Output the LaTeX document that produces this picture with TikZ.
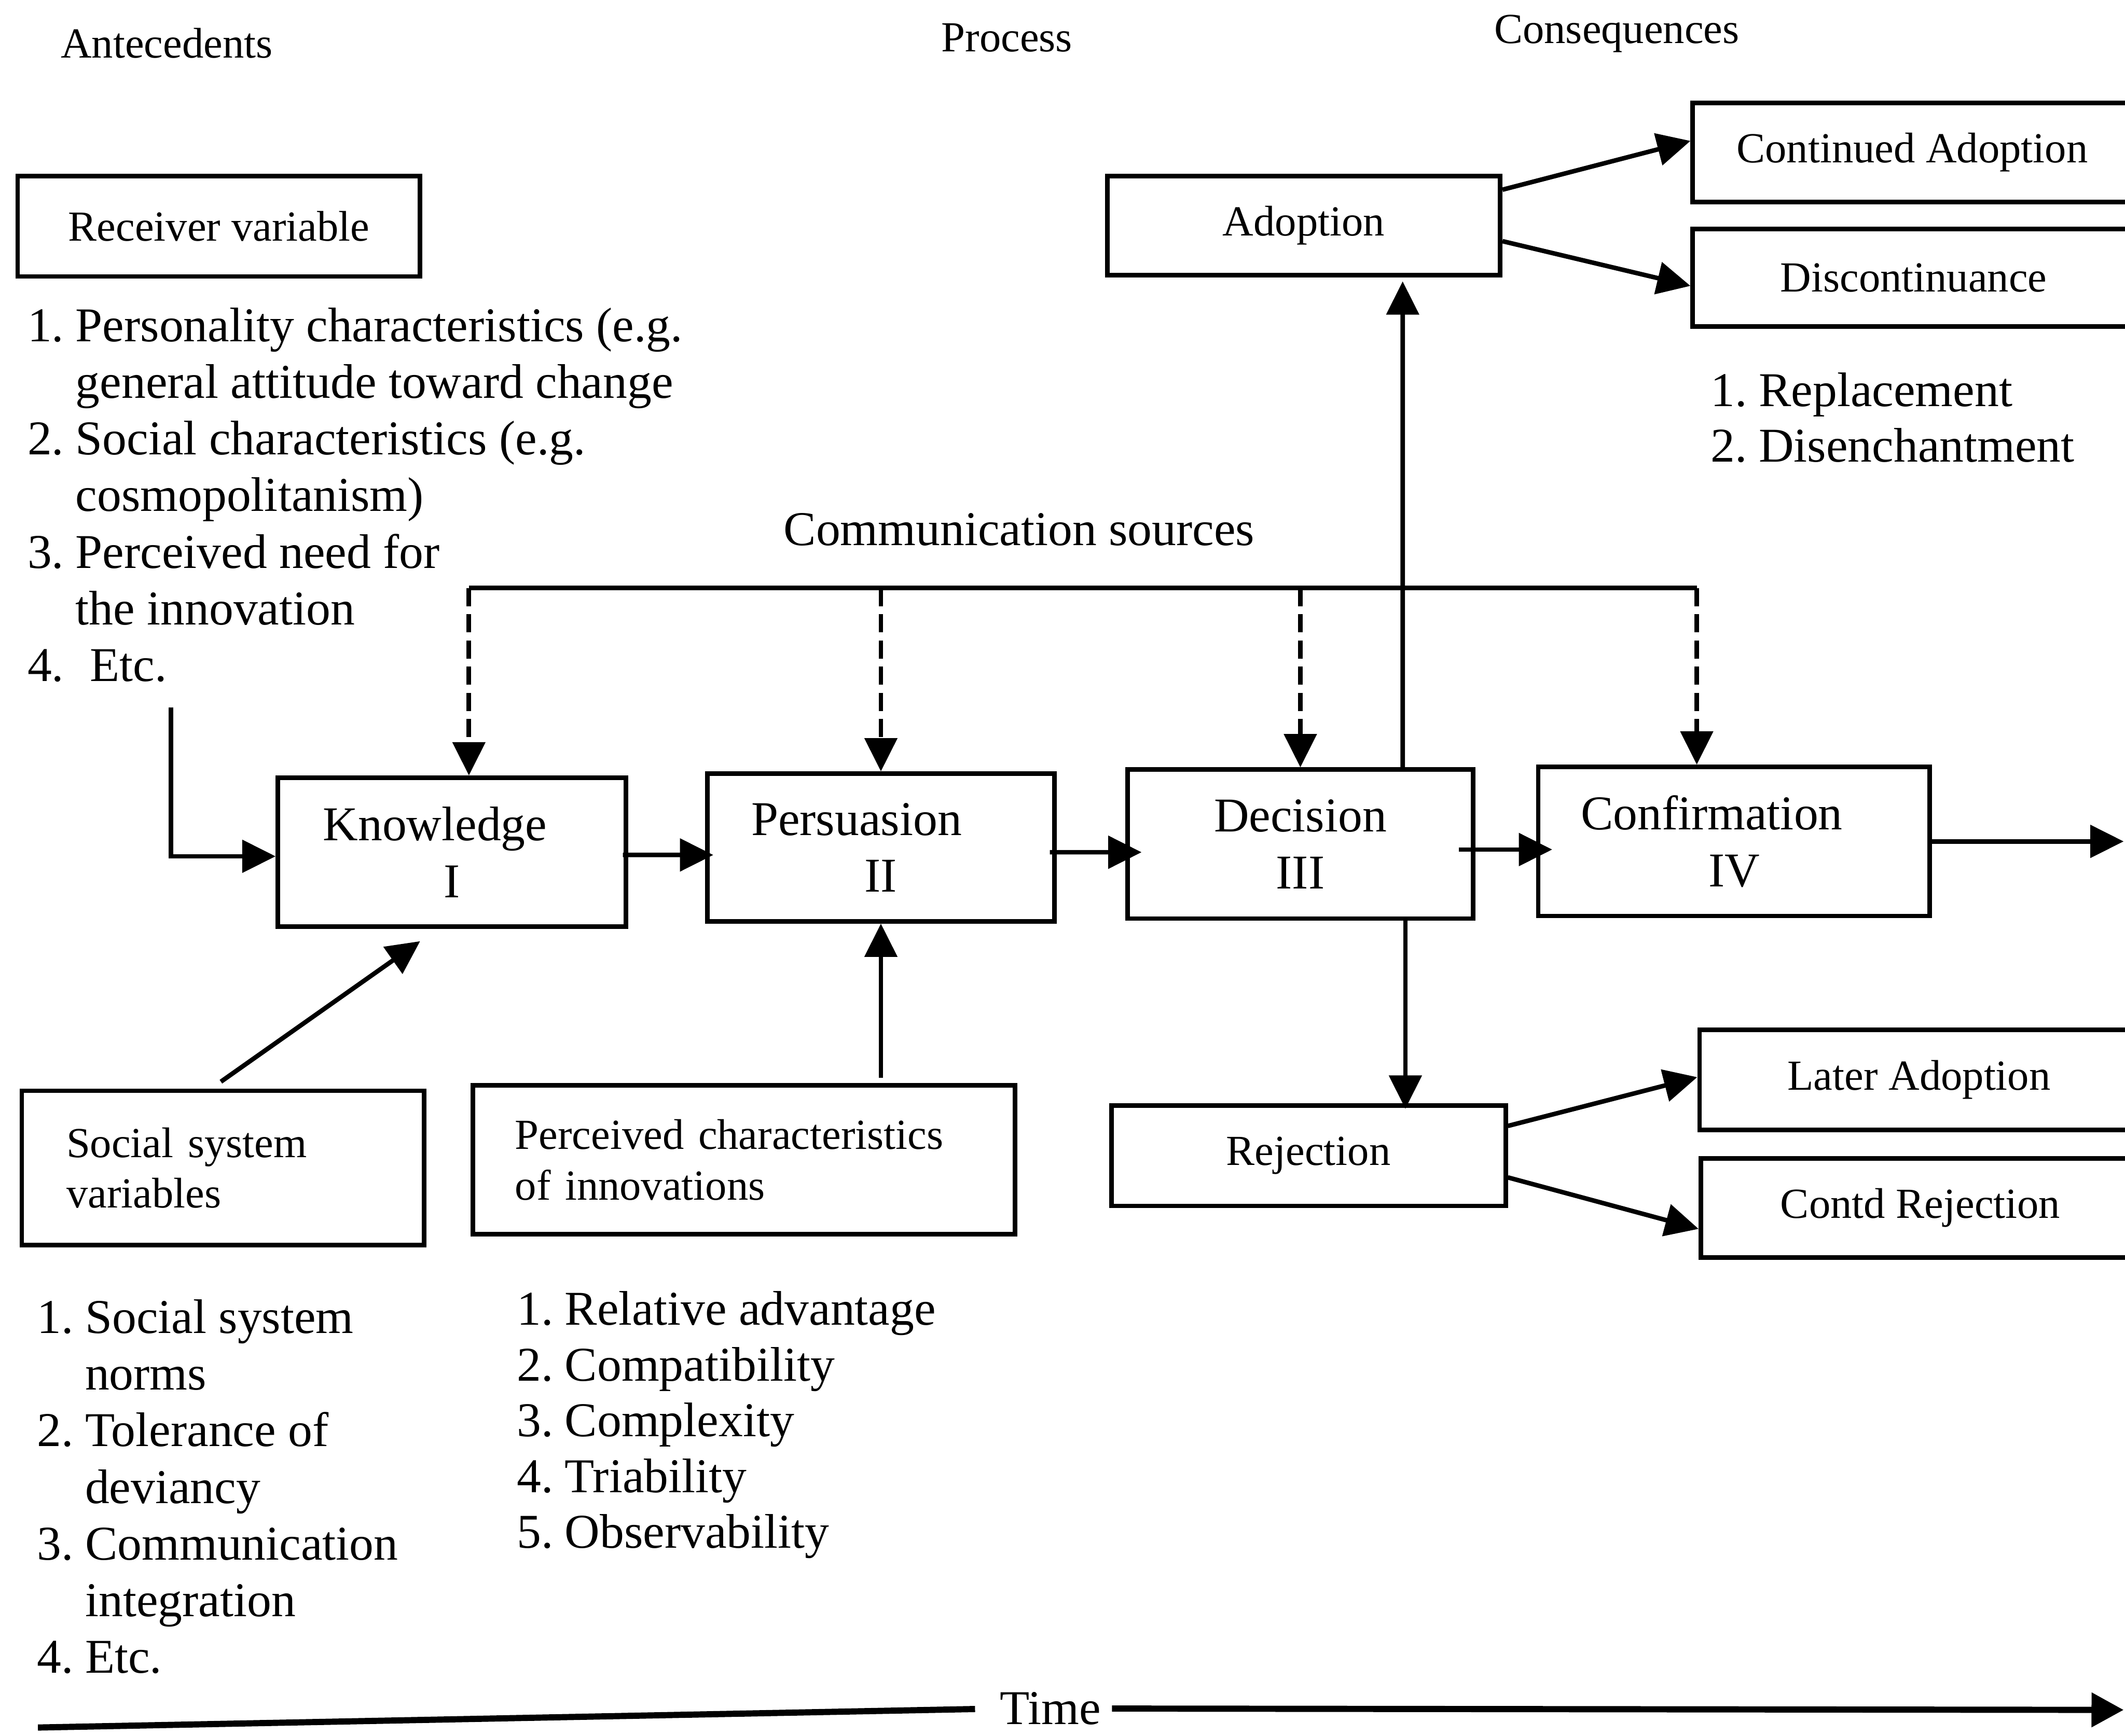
\documentclass[tikz,border=0pt]{standalone}
\usepackage{fontspec}
\setmainfont{Liberation Serif}
\usetikzlibrary{arrows.meta,calc}
\newlength\numw
\setlength\numw{20.2pt}
\newcommand\nitem[2]{\makebox[\numw][l]{#1}#2}
\begin{document}
\begin{tikzpicture}[x=0.02cm,y=-0.02cm,
  lw/.style={line width=1.9pt},
  box/.style={draw,lw,inner sep=0pt,align=center},
  arr/.style={lw,-{Triangle[length=14pt,width=13.5pt]}},
  darr/.style={arr,dash pattern=on 7.6pt off 3.4pt},
  bigf/.style={font=\fontsize{20.4}{23.8}\selectfont},
  smallf/.style={font=\fontsize{18}{21.3}\selectfont},
  tline/.style={line width=2.6pt}]
\useasboundingbox (0,0) rectangle (1568,1281);
\clip (0,0) rectangle (1568,1281);

% headings
\node[smallf] (hant) at (123,32) {Antecedents};
\node[smallf] (hpro) at (743,28) {Process};
\node[smallf] (hcon) at (1193,25) {Consequences};

% antecedent boxes
\node[box,smallf,minimum width=5.94cm,minimum height=1.48cm] (recv) at (161.5,167) {Receiver variable};
\node[bigf,anchor=base west,inner sep=0pt] (rlist) at (20,252) {\parbox[t]{12cm}{\noindent
 \nitem{1.}{Personality characteristics (e.g.}\\
 \nitem{}{general attitude toward change}\\
 \nitem{2.}{Social characteristics (e.g.}\\
 \nitem{}{cosmopolitanism)}\\
 \nitem{3.}{Perceived need for}\\
 \nitem{}{the innovation}\\
 \nitem{4.}{\hspace*{6pt}Etc.}}};

\node[box,smallf,align=left,inner xsep=0.66cm,inner ysep=0pt,text width=4.62cm,minimum height=2.28cm] (soc) at (164.5,862) {Social system\\variables};
\node[box,smallf,align=left,inner xsep=0.62cm,inner ysep=0pt,text width=6.76cm,minimum height=2.2cm] (per) at (549,856) {Perceived characteristics\\of innovations};

\node[bigf,anchor=base west,inner sep=0pt] (slist) at (27,984) {\parbox[t]{8cm}{\noindent
 \nitem{1.}{Social system}\\
 \nitem{}{norms}\\
 \nitem{2.}{Tolerance of}\\
 \nitem{}{deviancy}\\
 \nitem{3.}{Communication}\\
 \nitem{}{integration}\\
 \nitem{4.}{Etc.}}};
\node[font=\fontsize{20.4}{23.4}\selectfont,anchor=base west,inner sep=0pt] (plist) at (381,978) {\parbox[t]{8cm}{\noindent
 \nitem{1.}{Relative advantage}\\
 \nitem{2.}{Compatibility}\\
 \nitem{3.}{Complexity}\\
 \nitem{4.}{Triability}\\
 \nitem{5.}{Observability}}};

% process boxes
\node[box,bigf,minimum width=5.14cm,minimum height=2.2cm] (know) at (333.5,629) {Knowledge\hspace*{0.5cm}\\I};
\node[box,bigf,minimum width=5.12cm,minimum height=2.18cm] (pers) at (650,625.5) {Persuasion\hspace*{0.72cm}\\II};
\node[box,bigf,minimum width=5.1cm,minimum height=2.2cm] (dec) at (959.5,623) {Decision\\III};
\node[box,bigf,minimum width=5.78cm,minimum height=2.2cm] (conf) at (1279.5,621) {Confirmation\hspace*{0.66cm}\\IV};

\node[bigf] (csl) at (752,391) {Communication sources};

% consequence boxes
\node[box,smallf,minimum width=5.8cm,minimum height=1.46cm] (ado) at (962,166.5) {Adoption};
\node[box,smallf,minimum width=6.48cm,minimum height=1.46cm] (cont) at (1411,112.5) {Continued Adoption};
\node[box,smallf,minimum width=6.52cm,minimum height=1.44cm] (disc) at (1412,205) {Discontinuance};
\node[font=\fontsize{20.4}{23.2}\selectfont,anchor=base west,inner sep=0pt] (replist) at (1262,300) {\parbox[t]{8cm}{\noindent
 \nitem{1.}{Replacement}\\
 \nitem{2.}{Disenchantment}}};
\node[box,smallf,minimum width=5.82cm,minimum height=1.48cm] (rej) at (965.5,853) {Rejection};
\node[box,smallf,minimum width=6.48cm,minimum height=1.48cm] (later) at (1416,797) {Later Adoption};
\node[box,smallf,minimum width=6.48cm,minimum height=1.46cm] (contd) at (1417,891.5) {Contd Rejection};

% antecedent connectors
\coordinate (rstart) at (126,522);
\draw[arr] (rstart) |- ($(know.west)+(0,3)$);
\draw[arr] ($(soc.north)+(-1.5,-5)$) -- ($(know.south)+(-23.5,9)$);
\draw[arr] ($(per.north)+(101,-4)$) -- (pers.south);

% main chain
\draw[arr] ($(know.east)+(-4,2)$) -- ($(pers.west)+(6,5.5)$);
\draw[arr] ($(pers.east)+(-5,3.5)$) -- ($(dec.west)+(12,6)$);
\draw[arr] ($(dec.east)+(-12,4)$) -- ($(conf.west)+(12,6)$);
\coordinate (outend) at (1567,621);
\draw[arr] (conf.east) -- (outend);

% communication sources
\coordinate (cs1) at (346,434);
\coordinate (cs4) at (1252,434);
\draw[lw] (cs1) -- (cs4);
\draw[darr] (cs1) -- (cs1 |- know.north);
\draw[darr] (pers.north |- cs1) -- (pers.north);
\draw[darr] (dec.north |- cs1) -- (dec.north);
\draw[darr] (cs4) -- (cs4 |- conf.north);

% decision branches
\draw[arr] ($(dec.north)+(75.5,0)$) -- ($(ado.south)+(73,3)$);
\draw[arr] ($(dec.south)+(77.5,0)$) -- ($(rej.north)+(71.5,4)$);
\draw[arr] ($(ado.east)+(0,-26.5)$) -- ($(cont.west)+(0,-8.5)$);
\draw[arr] ($(ado.east)+(0,11.5)$) -- ($(disc.west)+(0,6)$);
\draw[arr] ($(rej.east)+(0,-22)$) -- ($(later.west)+(0,-2)$);
\draw[arr] ($(rej.east)+(0,16)$) -- ($(contd.west)+(0,15.5)$);

% time axis
\node[bigf,inner xsep=0pt,inner ysep=1pt] (time) at (775,1261) {Time};
\coordinate (tstart) at (28,1275);
\coordinate (tend) at (1567,1262);
\draw[tline,shorten >=0.36cm] (tstart) -- (time.west);
\draw[tline,shorten <=0.16cm,-{Triangle[length=13.5pt,width=14pt]}] (time.east) -- (tend);
\end{tikzpicture}
\end{document}
